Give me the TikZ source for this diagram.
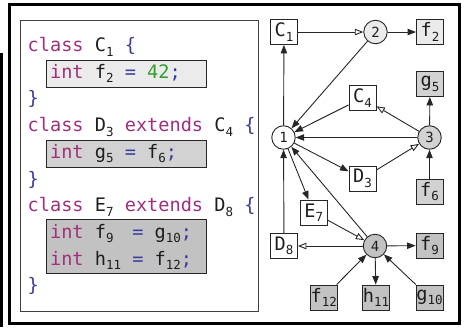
\documentclass[tikz,border=0pt]{standalone}
\usepackage{fontspec}
\setmainfont{DejaVu Sans Mono}
\usetikzlibrary{arrows.meta}
\definecolor{ckw}{HTML}{A0307F}
\definecolor{cbr}{HTML}{3A3AA0}
\definecolor{cnm}{HTML}{2EA02E}
\definecolor{ctx}{HTML}{1E1E1E}
\definecolor{flight}{HTML}{EBEBEB}
\definecolor{fmid}{HTML}{D2D2D2}
\definecolor{fdark}{HTML}{C2C2C2}
\definecolor{cln}{HTML}{262626}
\newcommand\sbs[1]{\raisebox{-4.5pt}{\fontsize{12.5}{12.5}\selectfont #1}}
\newcommand\Kw[1]{\textcolor{ckw}{#1}}
\newcommand\Op[1]{\textcolor{cbr}{#1}}
\newcommand\Nm[1]{\textcolor{cnm}{#1}}
\begin{document}
\begin{tikzpicture}[x=1pt,y=-1pt,
  code/.style={anchor=base west, inner sep=0pt, font=\fontsize{18.6}{20}\selectfont, text=ctx},
  hl/.style={draw=cln, line width=1pt},
  box/.style={draw=cln, line width=0.9pt, minimum width=27pt, minimum height=25pt, inner sep=0pt, font=\fontsize{18.6}{20}\selectfont, text=ctx},
  circ/.style={circle, draw=cln, line width=0.9pt, minimum size=23.5pt, inner sep=0pt, font=\fontsize{14}{14}\selectfont, text=ctx},
  sa/.style={draw=cln, line width=0.9pt, -{Triangle[length=8.5pt,width=6.5pt]}},
  oa/.style={draw=cln, line width=0.9pt, -{Triangle[open,length=8.5pt,width=6.5pt,fill=white]}},
]
\useasboundingbox (0,0) rectangle (469,327);
% frames
\draw[line width=2.5pt] (1.3,53) -- (1.3,327);
\draw[line width=3pt] (9.5,4.5) rectangle (459.5,323.5);
\draw[draw=black!75, line width=1pt] (20,20) rectangle (258,311);
% highlight boxes
\draw[hl, fill=flight] (46,60) rectangle (206,87);
\draw[hl, fill=fmid] (46,140) rectangle (206,167);
\draw[hl, fill=fdark] (46,219) rectangle (206,273);
% code lines
\node[code] (l1) at (27.5,51.5) {\Kw{class} C\sbs{1} \Op{\{}};
\node[code] (l2) at (49.9,78.2) {\Kw{int} f\sbs{2} \Op{=} \Nm{42}\Op{;}};
\node[code] (l3) at (27.5,104.9) {\Op{\}}};
\node[code] (l4) at (27.5,131.6) {\Kw{class} D\sbs{3} \Kw{extends} C\sbs{4} \Op{\{}};
\node[code] (l5) at (49.9,158.3) {\Kw{int} g\sbs{5} \Op{=} f\sbs{6}\Op{;}};
\node[code] (l6) at (27.5,185) {\Op{\}}};
\node[code] (l7) at (27.5,211.7) {\Kw{class} E\sbs{7} \Kw{extends} D\sbs{8} \Op{\{}};
\node[code] (l8) at (49.9,238.4) {\Kw{int} f\sbs{9}\hphantom{\sbs{1}} \Op{=} g\sbs{10}\Op{;}};
\node[code] (l9) at (49.9,265.1) {\Kw{int} h\sbs{11} \Op{=} f\sbs{12}\Op{;}};
\node[code] (l10) at (27.5,291.8) {\Op{\}}};
% graph nodes
\node[box] (C1) at (284,32) {C\sbs{1}};
\node[circ, fill=flight] (n2) at (375.5,32) {2};
\node[box, fill=flight] (f2) at (430,32) {f\sbs{2}};
\node[box, fill=fmid] (g5) at (430,84) {g\sbs{5}};
\node[box] (C4) at (362.5,98) {C\sbs{4}};
\node[circ] (n1) at (283.5,137.5) {1};
\node[circ, fill=fmid] (n3) at (429.5,137.5) {3};
\node[box] (D3) at (362.5,178.5) {D\sbs{3}};
\node[box, fill=fmid] (f6) at (429.5,191.5) {f\sbs{6}};
\node[box] (E7) at (313.7,212.5) {E\sbs{7}};
\node[box] (D8) at (284,246) {D\sbs{8}};
\node[circ, fill=fdark] (n4) at (375,246) {4};
\node[box, fill=fdark] (f9) at (429.5,245.5) {f\sbs{9}};
\node[box, fill=fdark] (f12) at (323.7,297.5) {f\sbs{12}};
\node[box, fill=fdark] (h11) at (376,297.5) {h\sbs{11}};
\node[box, fill=fdark] (g10) at (429.5,297.5) {g\sbs{10}};
% edges
\draw[sa] (n1) -- (C1);
\draw[oa] (C1) -- (n2);
\draw[sa] (n2) -- (f2);
\draw[sa] (n2) -- (n1);
\draw[sa] (C4) -- (n1);
\draw[sa] (n3) -- (n1);
\draw[oa] (n3) -- (C4);
\draw[sa] (n3) -- (g5);
\draw[sa] (f6) -- (n3);
\draw[oa] (D3) -- (n3);
\draw[sa] (n1) -- (D3);
\draw[sa] (n1) -- (E7);
\draw[sa] (D8) -- (n1);
\draw[sa] (n4) -- (n1);
\draw[oa] (E7) -- (n4);
\draw[oa] (n4) -- (D8);
\draw[sa] (n4) -- (f9);
\draw[sa] (n4) -- (h11);
\draw[sa] (f12) -- (n4);
\draw[sa] (g10) -- (n4);
\end{tikzpicture}
\end{document}
